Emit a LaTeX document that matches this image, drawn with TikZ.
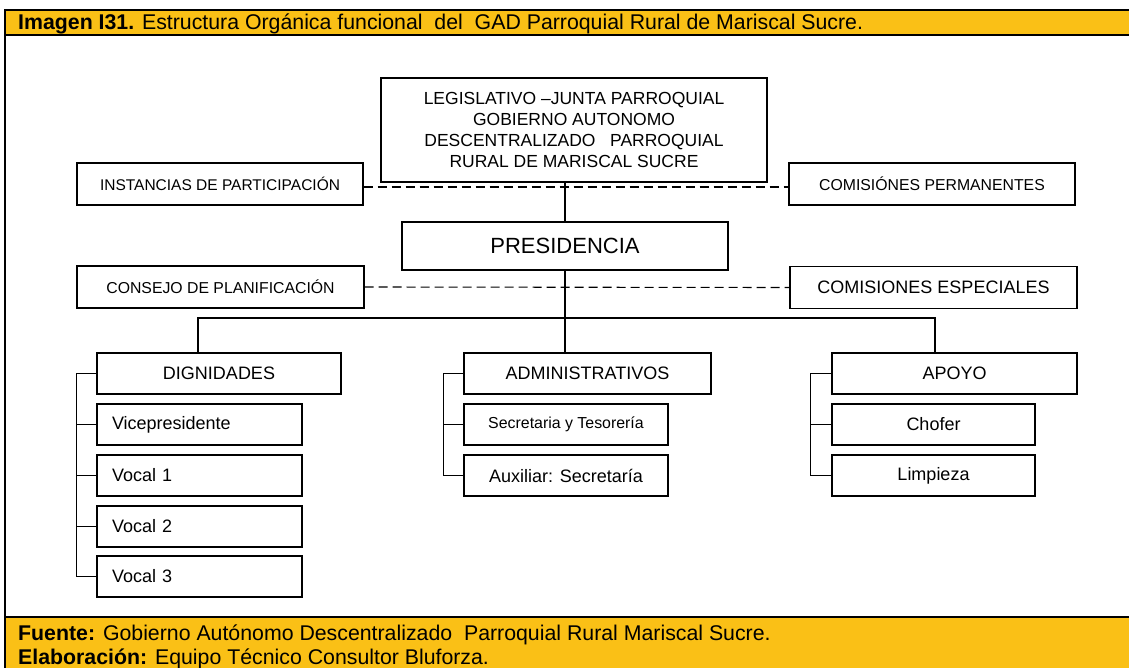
\documentclass[tikz,border=0pt]{standalone}
\usepackage{fontspec}
\setmainfont{Liberation Sans}
\usepackage{tikz}
\definecolor{amarillo}{RGB}{250,192,22}
\newcommand{\letra}[1]{\fontsize{#1}{21}\selectfont}

\begin{document}
\begin{tikzpicture}[x=1pt,y=-1pt,
  caja/.style={draw, line width=1.3pt, inner sep=0pt, font=\letra{18}},
  cajaIzq/.style={caja, text width=175pt, inner xsep=15pt, align=left, minimum height=41pt},
  cajaSub/.style={caja, minimum width=204pt, minimum height=41pt},
  punteado/.style={line width=1.1pt, dash pattern=on 9pt off 5pt},
  linea/.style={line width=1.4pt}]
 \useasboundingbox (0,0) rectangle (1129,668);
 % marco y franjas
 \fill[amarillo] (5,10) rectangle (1129,35);
 \fill[amarillo] (5,617) rectangle (1129,668);
 \draw[line width=2pt] (1129,10) -- (5,10) -- (5,668);
 \draw[line width=1.6pt] (5,35) -- (1129,35) (5,617) -- (1129,617);
 \node[anchor=base west, inner sep=0pt, font=\letra{21.3}] (titulo) at (18,30)
   {\textbf{Imagen I31.} Estructura Orgánica funcional\ \ del\ \ GAD Parroquial Rural de Mariscal Sucre.};
 \node[anchor=base west, inner sep=0pt, font=\letra{21.3}] (fuente) at (18,640)
   {\textbf{Fuente:} Gobierno Autónomo Descentralizado\ \ Parroquial Rural Mariscal Sucre.};
 \node[anchor=base west, inner sep=0pt, font=\letra{21.3}] (elab) at (18,664)
   {\textbf{Elaboración:} Equipo Técnico Consultor Bluforza.};

 % nivel directivo
 \node[caja, minimum width=386pt, minimum height=104pt, align=center, font=\letra{17.5}] (leg) at (574,130)
   {LEGISLATIVO –JUNTA PARROQUIAL\\GOBIERNO AUTONOMO\\DESCENTRALIZADO\ \ \ PARROQUIAL\\RURAL DE MARISCAL SUCRE};
 \node[caja, minimum width=286pt, minimum height=42pt, font=\letra{15.5}] (inst) at (220,184) {INSTANCIAS DE PARTICIPACIÓN};
 \node[caja, minimum width=286pt, minimum height=42pt, font=\letra{15.8}] (perm) at (932,184) {COMISIÓNES PERMANENTES};
 \node[caja, minimum width=326pt, minimum height=48pt, font=\letra{22}] (pres) at (565,246) {PRESIDENCIA};
 \node[caja, minimum width=287pt, minimum height=42pt, font=\letra{15.8}] (cons) at (220.5,287) {CONSEJO DE PLANIFICACIÓN};
 \node[caja, minimum width=287pt, minimum height=42pt] (espe) at (933.5,287.5) {COMISIONES ESPECIALES};

 % areas
 \node[caja, minimum width=244pt, minimum height=41pt] (dig) at (219,373.5) {DIGNIDADES};
 \node[cajaIzq] (vice) at (199.5,424.5) {Vicepresidente};
 \node[cajaIzq] (voc1) at (199.5,475.5) {Vocal 1};
 \node[cajaIzq] (voc2) at (199.5,526.5) {Vocal 2};
 \node[cajaIzq] (voc3) at (199.5,576.5) {Vocal 3};

 \node[caja, minimum width=247pt, minimum height=41pt] (adm) at (587.5,373.5) {ADMINISTRATIVOS};
 \node[cajaSub, font=\letra{15.9}] (sec) at (566,424.5) {Secretaria y Tesorería};
 \node[cajaSub] (aux) at (566,475.5) {Auxiliar: Secretaría};

 \node[caja, minimum width=245pt, minimum height=41pt] (apo) at (954.5,373.5) {APOYO};
 \node[cajaSub, minimum width=203pt] (chof) at (933.5,424.5) {Chofer};
 \node[cajaSub, minimum width=203pt] (limp) at (933.5,475.5) {Limpieza};

 % conexiones
 \draw[punteado] ([yshift=-3pt]inst.east) -- ([yshift=-3pt]perm.west);
 \draw[punteado] (cons.east) -- (espe.west);
 \draw[linea] (leg.south -| pres.north) -- (pres.north);
 \draw[linea] (pres.south) -- (pres.south |- adm.north);
 \coordinate (busIzq) at (198,318);
 \coordinate (busDer) at (935,318);
 \draw[linea] (busIzq |- dig.north) |- (busDer) -- (busDer |- apo.north);

 \draw[linea] (dig.west) -- ++(-20,0) |- (voc3.west);
 \foreach \n in {vice,voc1,voc2}
   \draw[linea] (\n.west) -- ++(-20,0);
 \draw[linea] (adm.west) -- ++(-20,0) |- (aux.west);
 \draw[linea] (sec.west) -- ++(-20,0);
 \draw[linea] (apo.west) -- ++(-21,0) |- (limp.west);
 \draw[linea] (chof.west) -- ++(-21,0);
\end{tikzpicture}
\end{document}
